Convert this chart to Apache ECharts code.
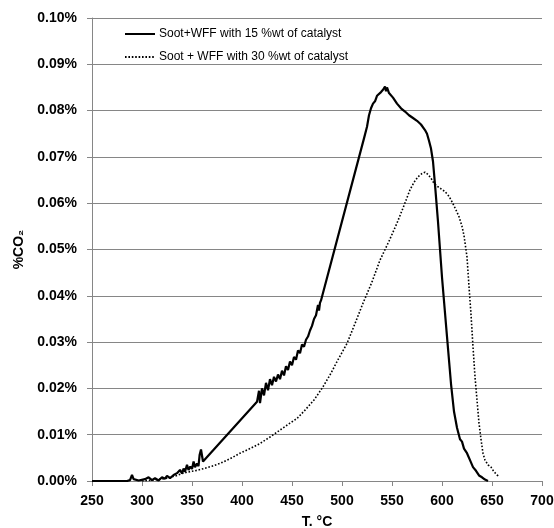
<!DOCTYPE html>
<html>
<head>
<meta charset="utf-8">
<script src="https://cdn.jsdelivr.net/npm/echarts@6/dist/echarts.min.js"></script>
<style>
  html, body { margin: 0; padding: 0; background: #fff; }
  #chart { width: 554px; height: 528px; }
</style>
</head>
<body>
<div id="chart"></div>
<script>
// temperature (°C) and %CO2
const seriesNames = ['Soot+WFF with 15 %wt of catalyst', 'Soot + WFF with 30 %wt of catalyst']

const solidT = [250, 285, 288, 290, 291.6, 296.6, 303, 306.6, 310, 313, 316.6, 320, 323, 325, 328, 331.6, 335,
  338, 340, 341.6, 343, 345, 346.5, 348.3, 350, 351.6, 353, 355, 356.5, 357.6, 359, 361, 362.3,
  415, 417, 418, 420, 422, 424, 426, 428, 430, 432, 434, 436, 438, 440, 442, 444, 446, 448, 450, 452, 454,
  456, 458, 460, 462, 464, 466, 468, 470, 472, 474, 476, 477, 478, 479,
  522, 525, 527, 529, 531, 533, 535, 537, 539, 541, 543, 544, 545, 547, 549, 551, 553, 555, 557, 559, 561,
  563, 565, 567, 569, 571, 573, 575, 577, 579, 581, 583, 585, 587, 589, 591, 593, 596, 600, 605, 609, 612,
  615, 618, 620, 622, 625, 628, 631, 634, 637, 640, 643, 646]
const solidV = [0, 0, 0.0002, 0.0013, 0.0004, 0.0001, 0.0004, 0.0008, 0.0002, 0.0006, 0.0001, 0.0008, 0.0005, 0.0011, 0.0006, 0.0013, 0.0017,
  0.0024, 0.0016, 0.0027, 0.0020, 0.0035, 0.0024, 0.0031, 0.0026, 0.0042, 0.0030, 0.0038, 0.0032, 0.0056, 0.0068, 0.0042, 0.0040,
  0.0171, 0.0195, 0.0168, 0.0200, 0.0185, 0.0212, 0.0196, 0.0220, 0.0207, 0.0225, 0.0215, 0.0230, 0.0220, 0.0238, 0.0228, 0.0248, 0.0240, 0.0258, 0.0250, 0.0268, 0.0262,
  0.0282, 0.0276, 0.0295, 0.0290, 0.0305, 0.0312, 0.0325, 0.0335, 0.0350, 0.0358, 0.0380, 0.0368, 0.0385, 0.0390,
  0.0740, 0.0765, 0.0790, 0.0805, 0.0815, 0.0820, 0.0832, 0.0828, 0.0840, 0.0845, 0.0852, 0.0842, 0.0850, 0.0838, 0.0842, 0.0828, 0.0830, 0.0815, 0.0818, 0.0805, 0.0808,
  0.0798, 0.0800, 0.0790, 0.0793, 0.0784, 0.0787, 0.0778, 0.0780, 0.0770, 0.0768, 0.0758, 0.0750, 0.0735, 0.0718, 0.0690, 0.0640, 0.0560, 0.0440, 0.0312, 0.0210, 0.0150,
  0.0115, 0.0090, 0.0085, 0.0070, 0.0060, 0.0045, 0.0030, 0.0022, 0.0012, 0.0008, 0.0003, 0]

const dottedT = [300, 315, 325, 335, 340, 345, 350, 355, 362, 370, 378, 388, 398, 408, 418, 428, 438, 448, 455, 463,
  472, 480, 488, 496, 505, 513, 521, 530, 538, 547, 555, 562, 568, 572, 576, 580, 583, 586, 589, 592, 595, 599,
  603, 607, 610, 613, 617, 620, 622, 625, 627, 629, 631, 633, 635, 637, 639, 641, 643, 646, 649, 652, 655, 657]
const dottedV = [0, 0.0003, 0.0006, 0.0012, 0.0016, 0.0019, 0.0021, 0.0023, 0.0027, 0.0032, 0.0038, 0.0048, 0.0060, 0.0070, 0.0081, 0.0095, 0.0110, 0.0125, 0.0135, 0.0153,
  0.0175, 0.0200, 0.0229, 0.0262, 0.0297, 0.0340, 0.0384, 0.0430, 0.0477, 0.0518, 0.0557, 0.0595, 0.0629, 0.0645, 0.0657, 0.0664, 0.0667, 0.0662, 0.0654, 0.0643, 0.0637, 0.0631,
  0.0625, 0.0615, 0.0603, 0.0590, 0.0571, 0.0550, 0.0530, 0.0484, 0.0420, 0.0360, 0.0290, 0.0225, 0.0175, 0.0125, 0.0090, 0.0060, 0.0045, 0.0035, 0.0030, 0.0020, 0.0013, 0.0010]

const xTicks = { min: 250, max: 700, interval: 50 }
const yTicks = { min: 0, max: 0.1, interval: 0.01 }

const zip = (xs, ys) => xs.map((x, i) => [x, ys[i]])

const chart = echarts.init(document.getElementById('chart'), null, { renderer: 'canvas' })
const axisGray = '#868686'
const font = 'Arial, "Liberation Sans", sans-serif'

chart.setOption({
  animation: false,
  textStyle: { fontFamily: font },
  grid: { left: 92, right: 12, top: 18, bottom: 47, containLabel: false, outerBoundsMode: 'none' },
  legend: {
    orient: 'vertical',
    left: 119,
    top: 23,
    itemWidth: 30,
    itemHeight: 10,
    itemGap: 11,
    textStyle: { color: '#000', fontSize: 12, fontFamily: font, padding: [0, 0, 0, -1] },
    itemStyle: { opacity: 0 },
    data: seriesNames,
  },
  xAxis: {
    type: 'value',
    min: xTicks.min,
    max: xTicks.max,
    interval: xTicks.interval,
    name: 'T. °C',
    nameLocation: 'middle',
    nameGap: 34,
    nameTextStyle: { color: '#000', fontSize: 14, fontWeight: 'bold', fontFamily: font },
    axisLine: { lineStyle: { color: axisGray, width: 1 } },
    axisTick: { show: true, inside: false, length: 5, lineStyle: { color: axisGray } },
    axisLabel: { color: '#000', fontSize: 14, fontWeight: 'bold', margin: 13, fontFamily: font },
    splitLine: { show: false },
  },
  yAxis: {
    type: 'value',
    min: yTicks.min,
    max: yTicks.max,
    interval: yTicks.interval,
    name: '%CO₂',
    nameLocation: 'middle',
    nameGap: 64,
    nameTextStyle: { color: '#000', fontSize: 14, fontWeight: 'bold', fontFamily: font },
    axisLine: { show: true, lineStyle: { color: axisGray, width: 1 } },
    axisTick: { show: true, inside: false, length: 5, lineStyle: { color: axisGray } },
    axisLabel: {
      color: '#000', fontSize: 14, fontWeight: 'bold', margin: 15, fontFamily: font,
      formatter: v => v.toFixed(2) + '%',
    },
    splitLine: { show: true, lineStyle: { color: axisGray, width: 1 } },
  },
  series: [
    {
      name: seriesNames[0],
      type: 'line',
      data: zip(solidT, solidV),
      showSymbol: false,
      symbol: 'none',
      lineStyle: { color: '#000', width: 2.2 },
      itemStyle: { color: '#000' },
    },
    {
      name: seriesNames[1],
      type: 'line',
      data: zip(dottedT, dottedV),
      showSymbol: false,
      symbol: 'none',
      lineStyle: { color: '#000', width: 1.6, type: [1.6, 1.8] },
      itemStyle: { color: '#000' },
    },
  ],
})
</script>
</body>
</html>
